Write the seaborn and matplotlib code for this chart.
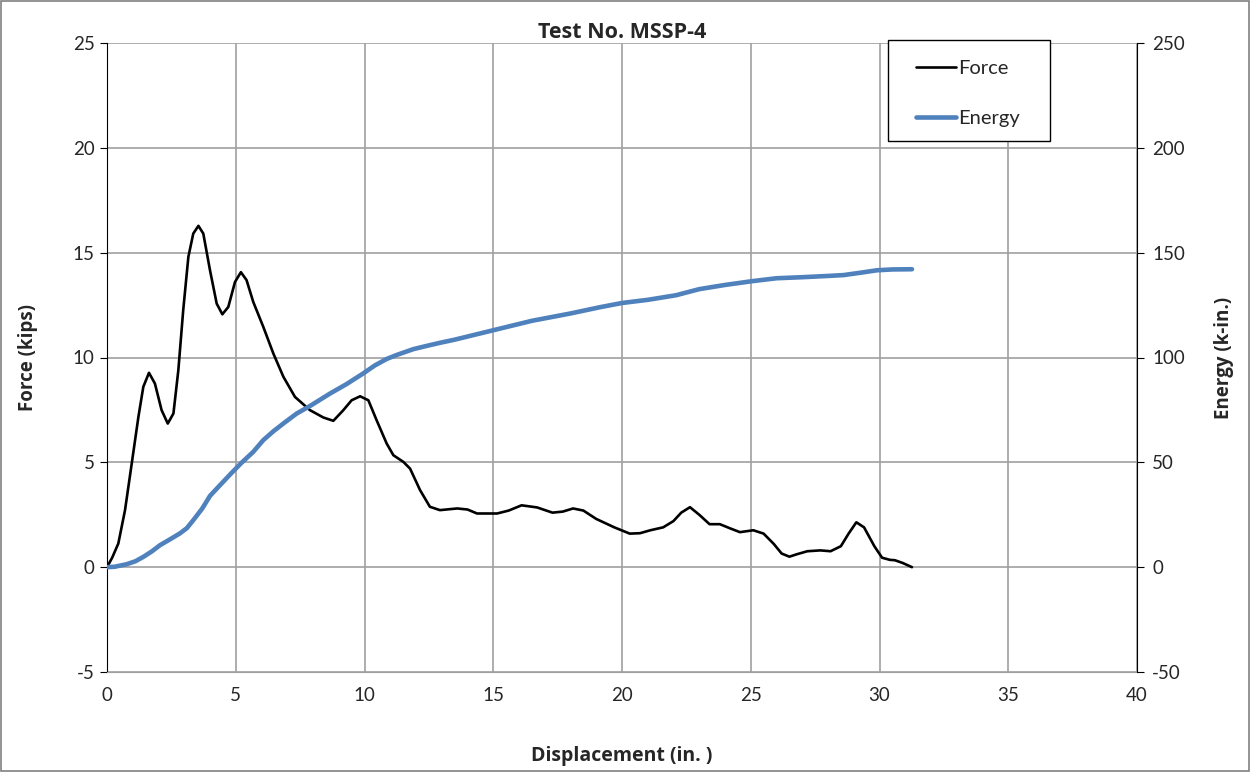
import matplotlib
matplotlib.use("Agg")
import matplotlib.pyplot as plt
import seaborn as sns
import pandas as pd

force_x = [0.0, 0.2, 0.44, 0.70, 0.96, 1.22, 1.41, 1.63, 1.86, 2.12, 2.36, 2.58, 2.77, 2.96, 3.16, 3.35, 3.55, 3.74, 4.0, 4.26, 4.48, 4.71, 4.97, 5.2, 5.42, 5.68, 6.07, 6.46, 6.85, 7.3, 7.88, 8.4, 8.79, 9.18, 9.5, 9.83, 10.15, 10.47, 10.86, 11.12, 11.51, 11.77, 12.16, 12.54, 12.93, 13.6, 14.0, 14.37, 15.15, 15.6, 16.1, 16.7, 17.3, 17.7, 18.1, 18.5, 19.0, 19.7, 20.3, 20.7, 21.1, 21.6, 22.0, 22.3, 22.64, 23.0, 23.4, 23.8, 24.2, 24.58, 25.1, 25.5, 25.9, 26.2, 26.5, 26.8, 27.2, 27.7, 28.1, 28.5, 28.8, 29.1, 29.4, 29.8, 30.1, 30.4, 30.6, 30.9, 31.26]
force_y = [0.0, 0.45, 1.13, 2.72, 4.94, 7.17, 8.6, 9.27, 8.76, 7.49, 6.85, 7.33, 9.39, 12.26, 14.8, 15.91, 16.28, 15.91, 14.16, 12.57, 12.06, 12.41, 13.6, 14.07, 13.69, 12.65, 11.46, 10.19, 9.08, 8.12, 7.49, 7.14, 6.98, 7.49, 7.96, 8.15, 7.96, 7.01, 5.9, 5.34, 5.02, 4.7, 3.67, 2.88, 2.72, 2.8, 2.75, 2.56, 2.56, 2.7, 2.95, 2.85, 2.6, 2.65, 2.8, 2.7, 2.3, 1.9, 1.6, 1.62, 1.76, 1.9, 2.2, 2.6, 2.86, 2.5, 2.05, 2.05, 1.85, 1.67, 1.76, 1.6, 1.1, 0.65, 0.5, 0.62, 0.76, 0.8, 0.76, 1.0, 1.6, 2.14, 1.9, 1.0, 0.45, 0.35, 0.33, 0.2, 0.0]

energy_x = [0.0, 0.3, 0.76, 1.1, 1.41, 1.75, 2.06, 2.45, 2.83, 3.1, 3.35, 3.7, 4.0, 4.35, 4.78, 5.2, 5.68, 6.07, 6.46, 6.9, 7.37, 7.9, 8.66, 9.3, 9.95, 10.4, 10.86, 11.25, 11.9, 12.54, 12.93, 13.5, 15.0, 16.5, 18.0, 19.15, 20.0, 21.0, 22.1, 23.0, 24.0, 25.05, 26.0, 27.0, 28.0, 28.6, 29.3, 29.9, 30.5, 31.26]
energy_y = [0.0, 0.2, 1.4, 2.8, 4.9, 7.6, 10.5, 13.3, 16.1, 18.6, 22.4, 28.0, 34.0, 38.6, 44.2, 49.5, 55.0, 60.6, 64.8, 69.0, 73.3, 77.0, 82.8, 87.3, 92.4, 96.2, 99.3, 101.2, 104.0, 105.9, 107.0, 108.5, 113.0, 117.5, 121.0, 124.0, 126.0, 127.5, 129.7, 132.6, 134.6, 136.4, 137.8, 138.3, 138.9, 139.3, 140.5, 141.6, 142.0, 142.1]

x_ticks = [0, 5, 10, 15, 20, 25, 30, 35, 40]
force_ticks = [-5, 0, 5, 10, 15, 20, 25]
energy_ticks = [-50, 0, 50, 100, 150, 200, 250]

sns.set_style("white")
plt.rcParams['font.family'] = ['Lato', 'DejaVu Sans']
plt.rcParams['axes.unicode_minus'] = False

BOLD = ['Open Sans', 'DejaVu Sans']

W, H = 1250, 772
fig = plt.figure(figsize=(12.5, 7.72), dpi=100)
ax = fig.add_axes([107/W, 1 - 672/H, 1030/W, 629/H])
ax2 = ax.twinx()

df_f = pd.DataFrame({"x": force_x, "y": force_y})
df_e = pd.DataFrame({"x": energy_x, "y": energy_y})

sns.lineplot(data=df_f, x="x", y="y", ax=ax, sort=False, color="black", lw=1.9, label="Force", legend=False)
sns.lineplot(data=df_e, x="x", y="y", ax=ax2, sort=False, color="#4f81bd", lw=3.3, label="Energy", legend=False)
for a in (ax, ax2):
    for ln in a.get_lines():
        ln.set_solid_joinstyle('round')
        ln.set_solid_capstyle('round')

ax.set_xlim(0, 40)
ax.set_ylim(-5, 25)
ax2.set_ylim(-50, 250)
ax.set_xticks(x_ticks)
ax.set_yticks(force_ticks)
ax2.set_yticks(energy_ticks)
ax.grid(True, color="#a0a0a0", lw=1.2)
ax.set_axisbelow(True)

for a in (ax, ax2):
    for s in a.spines.values():
        s.set_visible(False)
ax.spines['left'].set_visible(True)
ax.spines['left'].set_color('black')
ax.spines['bottom'].set_visible(True)
ax.spines['bottom'].set_color('#a0a0a0')
ax2.spines['right'].set_visible(True)
ax2.spines['right'].set_color('black')

ax.tick_params(axis='both', labelsize=13.5, length=5, direction='out', color='black', pad=4)
ax.tick_params(axis='x', pad=6)
ax2.tick_params(axis='y', labelsize=13.5, length=5, direction='out', color='black', pad=6)
ax.tick_params(left=True, bottom=False)
ax2.tick_params(right=True)

ax.set_xlabel("Displacement (in. )", fontsize=14, fontweight='bold', family=BOLD, labelpad=30)
ax.set_ylabel("Force (kips)", fontsize=13.5, fontweight='bold', family=BOLD, labelpad=25)
ax2.set_ylabel("Energy (k-in.)", fontsize=13.5, fontweight='bold', family=BOLD, labelpad=21)
ax.set_title("Test No. MSSP-4", fontsize=15.5, fontweight='bold', family=BOLD, pad=3)

h1, l1 = ax.get_legend_handles_labels()
h2, l2 = ax2.get_legend_handles_labels()
leg = fig.legend(h1 + h2, l1 + l2, loc='upper left', bbox_to_anchor=(896/W, 1 - 40/H),
                 frameon=False, fontsize=14.5, handlelength=2.0, handletextpad=0.1,
                 labelspacing=1.6, borderpad=1.0, borderaxespad=0)

fig.patches.append(plt.Rectangle((888/W, 1 - 141/H), 162/W, 101/H, transform=fig.transFigure,
                                 facecolor='white', edgecolor='black', lw=1.0, zorder=4))
leg.set_zorder(5)

fig.patches.append(plt.Rectangle((0.0008, 0.001), 0.9984, 0.998, transform=fig.transFigure,
                                 fill=False, edgecolor='#808080', lw=1.2))

fig.savefig("out.png", dpi=100)
